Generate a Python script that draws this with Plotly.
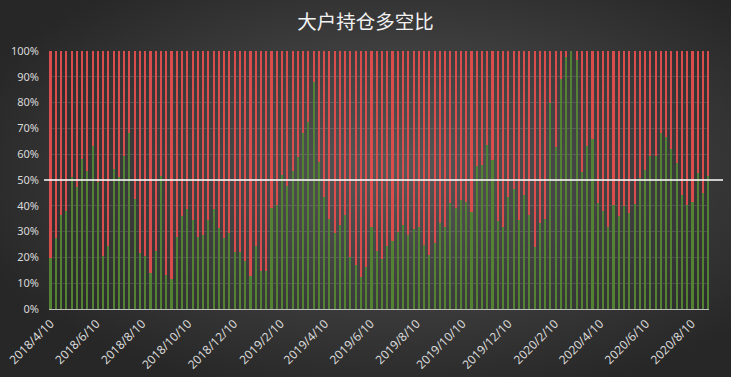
import base64
import datetime as dt
import plotly.graph_objects as go

title_text = "大户持仓多空比"

start_date = dt.date(2018, 4, 10)
long_pct = [
    19.9, 27.6, 36.4, 38.0, 51.0, 47.4, 58.1, 53.5, 63.3, 49.1, 20.7, 24.5, 54.1, 51.3, 59.4, 68.1,
    42.6, 21.8, 20.7, 13.8, 22.6, 51.7, 13.2, 11.7, 28.0, 36.2, 38.8, 34.5, 28.0, 28.7, 34.5,
    38.8, 31.5, 27.6, 29.3, 22.2, 22.2, 18.6, 12.9, 24.5, 14.9, 14.9, 39.3, 40.3, 51.9, 47.8,
    53.5, 59.0, 68.3, 72.6, 88.1, 57.1, 43.5, 34.9, 29.6, 32.6, 36.4, 20.0, 17.1, 12.5, 16.4,
    31.7, 22.5, 19.4, 24.5, 26.4, 29.8, 32.6, 28.7, 30.9, 31.7, 24.8, 20.9, 25.4, 33.2, 31.7,
    41.0, 39.3, 42.3, 41.6, 37.7, 55.6, 55.8, 63.6, 57.8, 34.1, 31.7, 43.5, 46.5, 34.5, 44.2, 36.4,
    23.9, 33.2, 34.8, 79.7, 62.9, 89.1, 97.5, 100.0, 96.5, 53.2, 63.3, 65.9, 41.0, 38.0, 31.7,
    40.3, 36.2, 40.0, 37.1, 40.7, 50.9, 53.9, 59.4, 59.4, 68.1, 66.6, 62.0, 56.5, 44.2, 40.3,
    41.6, 52.6, 44.8, 51.6,
]
dates = [start_date + dt.timedelta(weeks=i) for i in range(len(long_pct))]
long_ratio = [v / 100 for v in long_pct]
short_ratio = [1 - v for v in long_ratio]

tick_dates = [
    "2018-04-10", "2018-06-10", "2018-08-10", "2018-10-10", "2018-12-10",
    "2019-02-10", "2019-04-10", "2019-06-10", "2019-08-10", "2019-10-10", "2019-12-10",
    "2020-02-10", "2020-04-10", "2020-06-10", "2020-08-10",
]
tick_labels = [
    "2018/4/10", "2018/6/10", "2018/8/10", "2018/10/10", "2018/12/10",
    "2019/2/10", "2019/4/10", "2019/6/10", "2019/8/10", "2019/10/10", "2019/12/10",
    "2020/2/10", "2020/4/10", "2020/6/10", "2020/8/10",
]

W, H = 731, 377
ML, MR, MT, MB = 49, 22, 51, 68
PW, PH = W - ML - MR, H - MT - MB

bar_w = 2.8 * 86400000

fig = go.Figure()
fig.add_trace(go.Bar(x=dates, y=long_ratio, width=bar_w, marker=dict(color="#548235", line_width=0),
                     name="多"))
fig.add_trace(go.Bar(x=dates, y=short_ratio, width=bar_w, marker=dict(color="#DA4D4D", line_width=0),
                     name="空"))

svg = (
    f'<svg xmlns="http://www.w3.org/2000/svg" width="{W}" height="{H}">'
    '<defs><radialGradient id="g" cx="0.55" cy="0.45" r="0.62">'
    '<stop offset="0" stop-color="#575757"/><stop offset="1" stop-color="#272727"/>'
    '</radialGradient></defs>'
    f'<rect width="{W}" height="{H}" fill="url(#g)"/></svg>'
)
bg_src = "data:image/svg+xml;base64," + base64.b64encode(svg.encode()).decode()

x0 = dates[0] - dt.timedelta(days=2)
x1 = dates[-1] + dt.timedelta(days=1.5)

fig.update_layout(
    width=W, height=H,
    margin=dict(l=ML, r=MR, t=MT, b=MB, autoexpand=False),
    barmode="stack",
    bargap=0,
    showlegend=False,
    paper_bgcolor="#3a3a3a",
    plot_bgcolor="rgba(0,0,0,0)",
    title=dict(text=title_text, x=0.5, xanchor="center", y=1 - 22 / H, yanchor="middle",
               font=dict(family="Noto Sans CJK SC", size=19.5, color="#f2f2f2")),
    xaxis=dict(
        type="date", range=[x0, x1], automargin=False,
        tickvals=tick_dates, ticktext=tick_labels, tickangle=-45,
        tickfont=dict(family="Noto Sans", size=12, color="#d9d9d9"),
        showgrid=False, showline=True, linecolor="#bfbfbf", linewidth=1,
        ticks="", zeroline=False, ticklabelstandoff=2,
    ),
    yaxis=dict(
        range=[0, 1], dtick=0.1, tickformat=".0%", automargin=False,
        tickfont=dict(family="Noto Sans", size=11, color="#d9d9d9"),
        showgrid=True, gridcolor="rgba(255,255,255,0.13)", gridwidth=1,
        zeroline=False, showline=False, ticks="", ticklabelstandoff=9,
    ),
    images=[dict(source=bg_src, xref="paper", yref="paper",
                 x=-ML / PW, y=1 + MT / PH, sizex=W / PW, sizey=H / PH,
                 xanchor="left", yanchor="top", sizing="stretch", layer="below")],
    shapes=[dict(type="line", xref="paper", yref="y", x0=(44 - ML) / PW, x1=(723 - ML) / PW,
                 y0=0.5, y1=0.5, line=dict(color="#ffffff", width=1.5), layer="above")],
)

fig.write_html(
    "out.html",
    config={"displayModeBar": False},
    post_script="document.body.style.margin='0';document.body.style.padding='0';"
                "document.body.style.overflow='hidden';",
)
